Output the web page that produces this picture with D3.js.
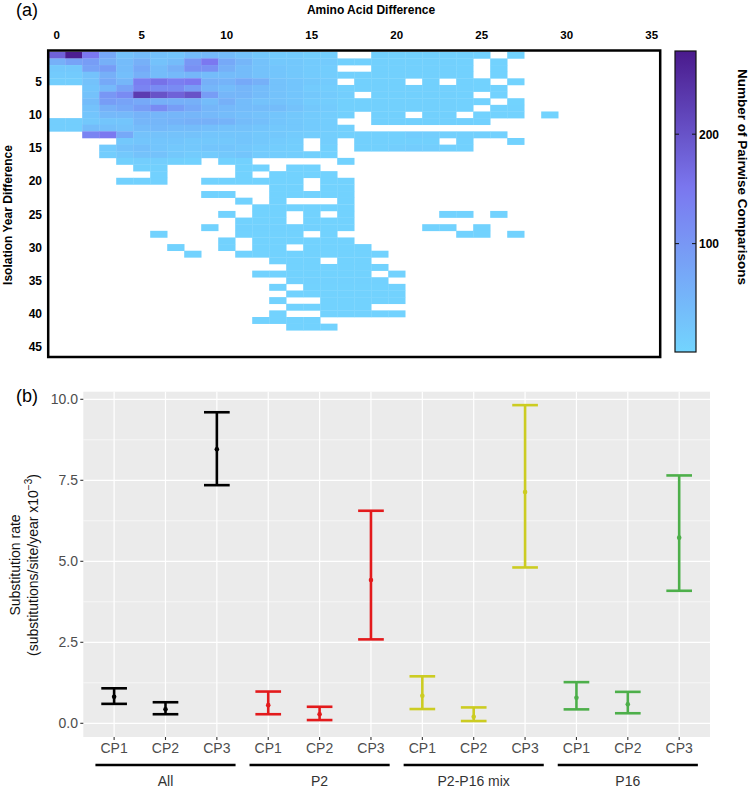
<!DOCTYPE html>
<html><head><meta charset="utf-8">
<script src="https://cdn.jsdelivr.net/npm/d3@7"></script>
<style>body{margin:0;background:#fff}svg{display:block}</style>
</head><body>
<svg id="c" width="750" height="788"></svg>
<script>
// ---------- Panel (a) data ----------
const aaTicks = [0,5,10,15,20,25,30,35];
const yearTicks = [5,10,15,20,25,30,35,40,45];
const colorbarTicks = [100,200];
// heatCounts[i]: isolation year difference i+1; entries: amino acid difference 0..29 (0 = no pairs)
const heatCounts = [
[180,270,150,70,30,40,30,25,40,45,40,30,20,15,15,10,10,0,0,8,8,8,8,8,8,6,0,3,0,0],
[60,80,90,60,40,60,30,40,100,150,70,50,30,20,20,15,15,8,8,8,8,8,8,8,6,0,4,0,0,0],
[20,20,80,90,40,70,40,60,110,110,60,40,30,25,20,15,12,0,0,8,8,8,8,8,6,0,4,0,0,0],
[15,15,30,60,35,60,40,45,50,40,40,40,30,25,20,15,12,8,8,8,8,8,8,8,6,0,4,0,0,0],
[10,10,30,70,50,140,160,140,150,60,55,70,60,30,25,20,15,0,8,8,8,0,8,0,6,5,0,3,0,0],
[0,0,25,45,80,130,120,120,90,50,40,50,40,30,25,15,12,8,8,8,8,8,8,8,6,5,4,0,0,0],
[0,0,30,100,120,230,200,180,200,90,50,50,40,30,25,20,15,10,0,8,8,8,8,8,6,0,4,0,0,0],
[0,0,40,90,80,70,60,60,60,40,60,40,30,30,25,15,12,8,8,8,8,8,8,8,6,5,0,3,0,0],
[0,0,30,60,70,90,120,90,70,50,45,40,40,40,30,20,15,8,8,8,8,8,8,8,6,0,5,5,0,0],
[0,0,25,45,45,55,50,50,50,45,40,35,30,25,20,15,12,8,0,8,8,0,8,8,0,5,5,5,0,3],
[10,10,20,25,25,50,50,55,60,60,55,40,35,25,20,15,12,0,0,8,8,8,8,8,8,6,0,0,0,0],
[10,10,40,35,30,40,45,40,40,35,30,30,25,20,20,15,12,8,0,0,0,0,0,0,0,0,0,0,0,0],
[0,0,130,150,70,30,30,30,30,25,25,25,20,20,15,12,10,8,8,8,8,12,10,8,8,8,6,0,0,0],
[0,0,0,0,20,25,25,25,20,20,20,25,20,15,12,0,10,0,8,8,8,8,8,0,6,0,0,4,0,0],
[0,0,0,15,30,35,25,20,20,25,25,20,15,12,10,0,8,0,8,8,10,12,10,8,6,0,0,0,0,0],
[0,0,0,12,20,30,30,20,15,15,20,25,15,12,10,8,6,0,0,0,0,0,0,0,0,0,0,0,0,0],
[0,0,0,0,8,10,10,8,6,0,6,6,0,0,0,0,0,5,0,0,0,0,0,0,0,0,0,0,0,0],
[0,0,0,0,0,8,8,0,0,0,0,5,5,0,5,5,0,0,0,0,0,0,0,0,0,0,0,0,0,0],
[0,0,0,0,0,0,6,0,0,0,0,5,0,5,5,5,5,0,0,0,0,0,0,0,0,0,0,0,0,0],
[0,0,0,0,6,6,6,0,0,5,5,5,5,5,5,0,5,5,0,0,0,0,0,0,0,0,0,0,0,0],
[0,0,0,0,0,0,0,0,0,0,0,0,0,5,5,0,5,5,0,0,0,0,0,0,0,0,0,0,0,0],
[0,0,0,0,0,0,0,0,0,5,5,0,0,5,5,5,5,5,0,0,0,0,0,0,0,0,0,0,0,0],
[0,0,0,0,0,0,0,0,0,0,0,5,0,5,0,0,0,5,0,0,0,0,0,0,0,0,0,0,0,0],
[0,0,0,0,0,0,0,0,0,0,0,0,5,5,5,5,5,5,0,0,0,0,0,0,0,0,0,0,0,0],
[0,0,0,0,0,0,0,0,0,0,5,0,5,5,0,5,0,5,0,0,0,0,0,4,4,0,4,0,0,0],
[0,0,0,0,0,0,0,0,0,0,0,5,5,5,0,5,5,5,0,0,0,0,0,0,0,0,0,0,0,0],
[0,0,0,0,0,0,0,0,0,5,0,6,6,6,6,6,5,5,0,0,0,0,4,4,0,4,0,0,0,0],
[0,0,0,0,0,0,5,0,0,0,0,5,5,5,5,0,5,0,0,0,0,0,0,0,4,4,0,4,0,0],
[0,0,0,0,0,0,0,0,0,0,5,0,5,5,5,5,5,5,0,0,0,0,0,0,0,0,0,0,0,0],
[0,0,0,0,0,0,0,5,0,0,5,0,5,5,0,5,5,5,5,0,0,0,0,0,0,0,0,0,0,0],
[0,0,0,0,0,0,0,0,5,0,0,5,5,5,5,5,5,5,5,5,0,0,0,0,0,0,0,0,0,0],
[0,0,0,0,0,0,0,0,0,0,0,0,0,5,5,5,0,5,5,0,0,0,0,0,0,0,0,0,0,0],
[0,0,0,0,0,0,0,0,0,0,0,0,0,0,5,5,5,5,5,5,0,0,0,0,0,0,0,0,0,0],
[0,0,0,0,0,0,0,0,0,0,0,0,5,5,5,5,5,5,5,0,5,0,0,0,0,0,0,0,0,0],
[0,0,0,0,0,0,0,0,0,0,0,0,0,0,6,6,6,6,6,6,0,0,0,0,0,0,0,0,0,0],
[0,0,0,0,0,0,0,0,0,0,0,0,0,5,0,5,5,5,5,5,5,0,0,0,0,0,0,0,0,0],
[0,0,0,0,0,0,0,0,0,0,0,0,0,0,5,5,5,5,5,5,5,0,0,0,0,0,0,0,0,0],
[0,0,0,0,0,0,0,0,0,0,0,0,0,5,0,0,5,5,5,5,5,0,0,0,0,0,0,0,0,0],
[0,0,0,0,0,0,0,0,0,0,0,0,0,0,5,5,5,5,5,0,0,0,0,0,0,0,0,0,0,0],
[0,0,0,0,0,0,0,0,0,0,0,0,0,5,0,0,5,5,5,5,5,0,0,0,0,0,0,0,0,0],
[0,0,0,0,0,0,0,0,0,0,0,0,5,5,5,5,0,0,0,0,0,0,0,0,0,0,0,0,0,0],
[0,0,0,0,0,0,0,0,0,0,0,0,0,0,5,5,5,0,0,0,0,0,0,0,0,0,0,0,0,0]
];

// ---------- Panel (b) data ----------
const groups = ["All","P2","P2-P16 mix","P16"];
const codonPositions = ["CP1","CP2","CP3"];
const rateMean  = [0.82,0.43,8.46, 0.56,0.28,4.42, 0.85,0.20,7.14, 0.79,0.59,5.73];
const rateLower = [0.60,0.28,7.35, 0.28,0.10,2.59, 0.44,0.07,4.81, 0.43,0.31,4.09];
const rateUpper = [1.08,0.65,9.60, 0.98,0.51,6.56, 1.45,0.49,9.82, 1.27,0.97,7.65];
const rateTicks = [0,2.5,5,7.5,10];
const rateMinor = [1.25,3.75,6.25,8.75];
const groupColors = ["#000000","#e31a1c","#cccc22","#4daf4a"];

const svg = d3.select("#c");
const F = "'Liberation Sans', Arial, sans-serif";

// ===== Panel (a) =====
const xA = d3.scaleLinear().domain([-0.5,35.5]).range([48.2,660.2]);
const yA = d3.scaleLinear().domain([0.5,46.5]).range([51.8,356.8]);
const cMax = 276;
const color = d3.scaleLinear().domain([1,150,cMax]).range(["#72d4fe","#7b78f0","#4a1a8c"]).clamp(true);

const cells = [];
heatCounts.forEach((row,i)=>row.forEach((v,j)=>{ if(v>0) cells.push({yr:i+1, aa:j, v}); }));
svg.append("g").selectAll("rect").data(cells).join("rect")
  .attr("x", d=>xA(d.aa-0.5)).attr("y", d=>yA(d.yr-0.5))
  .attr("width", d=>xA(d.aa+0.5)-xA(d.aa-0.5)+0.3)
  .attr("height", d=>yA(d.yr+0.5)-yA(d.yr-0.5)+0.3)
  .attr("fill", d=>color(d.v));

svg.append("rect").attr("x",48.2).attr("y",50.5).attr("width",612).attr("height",306.5)
  .attr("fill","none").attr("stroke","#000").attr("stroke-width",2.5);

svg.append("g").selectAll("text").data(aaTicks).join("text")
  .attr("x", d=>xA(d)).attr("y",39).attr("text-anchor","middle")
  .attr("font-family",F).attr("font-weight","bold").attr("font-size",11.5).text(d=>d);
svg.append("text").attr("x",371).attr("y",14).attr("text-anchor","middle")
  .attr("font-family",F).attr("font-weight","bold").attr("font-size",12).text("Amino Acid Difference");

svg.append("g").selectAll("text").data(yearTicks).join("text")
  .attr("x",42).attr("y", d=>yA(d)).attr("dy","0.36em").attr("text-anchor","end")
  .attr("font-family",F).attr("font-weight","bold").attr("font-size",12).text(d=>d);
svg.append("text").attr("transform","translate(12,215) rotate(-90)").attr("text-anchor","middle")
  .attr("font-family",F).attr("font-weight","bold").attr("font-size",12).text("Isolation Year Difference");

svg.append("text").attr("x",16).attr("y",16).attr("font-family",F).attr("font-size",18).text("(a)");

// colorbar
const cbX = 675, cbW = 21;
const cbY = d3.scaleLinear().domain([1,cMax]).range([352,51]);
const defs = svg.append("defs");
const grad = defs.append("linearGradient").attr("id","cbg").attr("x1",0).attr("y1",1).attr("x2",0).attr("y2",0);
d3.range(0,1.0001,0.05).forEach(t=>{
  grad.append("stop").attr("offset",t).attr("stop-color", color(1+t*(cMax-1)));
});
svg.append("rect").attr("x",cbX).attr("y",cbY(cMax)).attr("width",cbW).attr("height",cbY(1)-cbY(cMax))
  .attr("fill","url(#cbg)").attr("stroke","#111").attr("stroke-width",1.2);
colorbarTicks.forEach(t=>{
  svg.append("line").attr("x1",cbX).attr("x2",cbX+4).attr("y1",cbY(t)).attr("y2",cbY(t)).attr("stroke","#111");
  svg.append("line").attr("x1",cbX+cbW-4).attr("x2",cbX+cbW).attr("y1",cbY(t)).attr("y2",cbY(t)).attr("stroke","#111");
});
svg.append("g").selectAll("text").data(colorbarTicks).join("text")
  .attr("x",699).attr("y",d=>cbY(d)).attr("dy","0.36em")
  .attr("font-family",F).attr("font-weight","bold").attr("font-size",12).text(d=>d);
svg.append("text").attr("transform","translate(738,177) rotate(90)").attr("text-anchor","middle")
  .attr("font-family",F).attr("font-weight","bold").attr("font-size",13.5).text("Number of Pairwise Comparisons");

// ===== Panel (b) =====
const xB = d3.scaleLinear().domain([0.4,12.6]).range([83.3,710]);
const yB = d3.scaleLinear().domain([0,10]).range([723.3,399.3]);
const pTop = 391.7, pBot = 737;
svg.append("rect").attr("x",xB(0.4)).attr("y",pTop).attr("width",xB(12.6)-xB(0.4)).attr("height",pBot-pTop).attr("fill","#ebebeb");
svg.append("g").selectAll("line").data(rateMinor).join("line")
  .attr("x1",xB(0.4)).attr("x2",xB(12.6)).attr("y1",d=>yB(d)).attr("y2",d=>yB(d))
  .attr("stroke","#fff").attr("stroke-width",0.6);
svg.append("g").selectAll("line").data(rateTicks).join("line")
  .attr("x1",xB(0.4)).attr("x2",xB(12.6)).attr("y1",d=>yB(d)).attr("y2",d=>yB(d))
  .attr("stroke","#fff").attr("stroke-width",1.2);
const cats = d3.range(1,13);
svg.append("g").selectAll("line").data(cats).join("line")
  .attr("x1",d=>xB(d)).attr("x2",d=>xB(d)).attr("y1",pTop).attr("y2",pBot)
  .attr("stroke","#fff").attr("stroke-width",1.2);
// axis ticks
svg.append("g").selectAll("line").data(rateTicks).join("line")
  .attr("x1",xB(0.4)-3).attr("x2",xB(0.4)).attr("y1",d=>yB(d)).attr("y2",d=>yB(d))
  .attr("stroke","#333").attr("stroke-width",1.1);
svg.append("g").selectAll("line").data(cats).join("line")
  .attr("x1",d=>xB(d)).attr("x2",d=>xB(d)).attr("y1",pBot).attr("y2",pBot+3)
  .attr("stroke","#333").attr("stroke-width",1.1);
svg.append("g").selectAll("text").data(rateTicks).join("text")
  .attr("x",78).attr("y",d=>yB(d)).attr("dy","0.36em").attr("text-anchor","end")
  .attr("font-family",F).attr("font-size",14).attr("fill","#4d4d4d").text(d=>d.toFixed(1));
svg.append("g").selectAll("text").data(cats).join("text")
  .attr("x",d=>xB(d)).attr("y",753).attr("text-anchor","middle")
  .attr("font-family",F).attr("font-size",14).attr("fill","#4d4d4d")
  .text(d=>codonPositions[(d-1)%3]);
// group lines and labels
groups.forEach((g,gi)=>{
  const a = xB(gi*3+1), b = xB(gi*3+3);
  svg.append("line").attr("x1",a-18.7).attr("x2",b+18.7).attr("y1",765).attr("y2",765)
    .attr("stroke","#000").attr("stroke-width",2.5);
  svg.append("text").attr("x",xB(gi*3+2)).attr("y",786).attr("text-anchor","middle")
    .attr("font-family",F).attr("font-size",14).attr("fill","#333").text(g);
});
// error bars
const bars = cats.map((c,i)=>({c, m:rateMean[i], lo:rateLower[i], hi:rateUpper[i], col:groupColors[Math.floor(i/3)]}));
const half = (xB(2)-xB(1))*0.25;
const eb = svg.append("g").selectAll("g").data(bars).join("g");
eb.append("line").attr("x1",d=>xB(d.c)).attr("x2",d=>xB(d.c)).attr("y1",d=>yB(d.lo)).attr("y2",d=>yB(d.hi))
  .attr("stroke",d=>d.col).attr("stroke-width",2.6);
eb.append("line").attr("x1",d=>xB(d.c)-half).attr("x2",d=>xB(d.c)+half).attr("y1",d=>yB(d.hi)).attr("y2",d=>yB(d.hi))
  .attr("stroke",d=>d.col).attr("stroke-width",2.6);
eb.append("line").attr("x1",d=>xB(d.c)-half).attr("x2",d=>xB(d.c)+half).attr("y1",d=>yB(d.lo)).attr("y2",d=>yB(d.lo))
  .attr("stroke",d=>d.col).attr("stroke-width",2.6);
eb.append("circle").attr("cx",d=>xB(d.c)).attr("cy",d=>yB(d.m)).attr("r",2.3).attr("fill",d=>d.col);

// y title
const yt = svg.append("text").attr("transform",`translate(20,565) rotate(-90)`).attr("text-anchor","middle")
  .attr("font-family",F).attr("font-size",14).attr("fill","#111");
yt.text("Substitution rate");
const yt2 = svg.append("text").attr("transform",`translate(38,565) rotate(-90)`).attr("text-anchor","middle")
  .attr("font-family",F).attr("font-size",14).attr("fill","#111");
yt2.append("tspan").text("(substitutions/site/year x10");
yt2.append("tspan").attr("dy",-6).attr("font-size",10).text("\u22123");
yt2.append("tspan").attr("dy",6).text(")");

svg.append("text").attr("x",16).attr("y",402).attr("font-family",F).attr("font-size",18).text("(b)");
</script>
</body></html>
